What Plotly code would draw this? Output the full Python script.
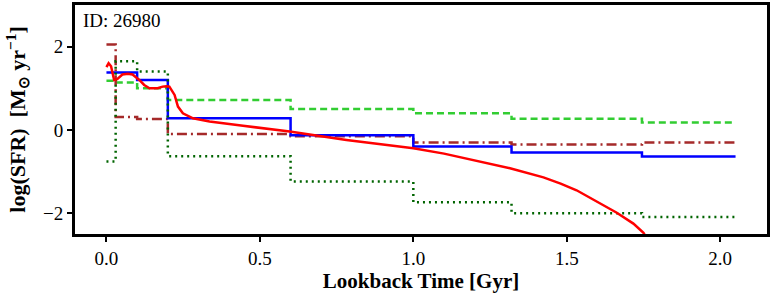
import plotly.graph_objects as go

# bin edges (Gyr) for the step SFHs
edges = [0.0, 0.03, 0.1, 0.2, 0.6, 1.0, 1.32, 1.745, 2.05]

blue_vals = [1.38, 1.38, 1.20, 0.28, -0.13, -0.40, -0.54, -0.64]
green_vals = [1.18, 1.14, 1.00, 0.72, 0.50, 0.40, 0.27, 0.18]
brown_vals = [2.05, 0.31, 0.26, -0.10, -0.15, -0.30, -0.35, -0.30]
dgreen_vals = [-0.76, 1.65, 1.40, -0.63, -1.24, -1.74, -2.00, -2.09]

red_t = [0, 0.007, 0.015, 0.025, 0.035, 0.052, 0.07, 0.085, 0.107, 0.123, 0.14,
         0.167, 0.183, 0.195, 0.205, 0.222, 0.233, 0.249, 0.282, 0.336, 0.445,
         0.597, 0.782, 1.0, 1.1, 1.195, 1.315, 1.424, 1.48, 1.532, 1.608, 1.663,
         1.717, 1.75, 1.76]
red_v = [1.51, 1.60, 1.53, 1.20, 1.22, 1.33, 1.35, 1.33, 1.20, 1.08, 1.00,
         1.00, 1.04, 1.05, 1.04, 0.84, 0.56, 0.40, 0.28, 0.20, 0.10,
         -0.04, -0.24, -0.44, -0.57, -0.72, -0.92, -1.14, -1.29, -1.45, -1.77, -1.99,
         -2.25, -2.47, -2.60]

xticks = [0.0, 0.5, 1.0, 1.5, 2.0]
xticklabels = ["0.0", "0.5", "1.0", "1.5", "2.0"]
yticks = [-2, 0, 2]
yticklabels = ["\u22122", "0", "2"]

FONT = "Liberation Serif"

def step(vals):
    return edges, list(vals) + [vals[-1]]

fig = go.Figure()
x, y = step(green_vals)
fig.add_trace(go.Scatter(x=x, y=y, mode="lines", line=dict(color="#32cd32", width=2.5, dash="7px,4px", shape="hv")))
x, y = step(brown_vals)
fig.add_trace(go.Scatter(x=x, y=y, mode="lines", line=dict(color="#a52a2a", width=2.5, dash="10px,4px,2px,4px", shape="hv")))
x, y = step(blue_vals)
fig.add_trace(go.Scatter(x=x, y=y, mode="lines", line=dict(color="#0000ff", width=2.5, shape="hv")))
x, y = step(dgreen_vals)
fig.add_trace(go.Scatter(x=x, y=y, mode="lines", line=dict(color="#006400", width=2.5, dash="2px,4px", shape="hv")))
fig.add_trace(go.Scatter(x=red_t, y=red_v, mode="lines", line=dict(color="#ff0000", width=2.5)))

axis_common = dict(showgrid=False, zeroline=False, showline=True, linecolor="black",
                   linewidth=3, mirror=True, ticks="outside", ticklen=5, tickwidth=1.5,
                   tickcolor="black", automargin=False,
                   tickfont=dict(family=FONT, size=19, color="black"))

fig.update_layout(
    width=773, height=296,
    margin=dict(l=75, r=6, t=5, b=62),
    paper_bgcolor="white", plot_bgcolor="white",
    showlegend=False,
    xaxis=dict(range=[-0.1025, 2.1525], tickvals=xticks, ticktext=xticklabels,
               title=dict(text="<b>Lookback Time [Gyr]</b>", font=dict(family=FONT, size=21, color="black"), standoff=6),
               **axis_common),
    yaxis=dict(range=[-2.5, 3.0], tickvals=yticks, ticktext=yticklabels,
               title=dict(text="<b>log(SFR)  [M<sub>\u2299</sub> yr<sup>\u22121</sup>]</b>", font=dict(family=FONT, size=22, color="black"), standoff=12),
               **axis_common),
    annotations=[dict(text="ID: 26980", xref="paper", yref="paper", x=0.008, y=0.985,
                      xanchor="left", yanchor="top", showarrow=False,
                      font=dict(family=FONT, size=19, color="black"))],
)

fig.write_html("out.html", config={"displayModeBar": False},
               post_script="document.body.style.margin='0';document.body.style.overflow='hidden';")
